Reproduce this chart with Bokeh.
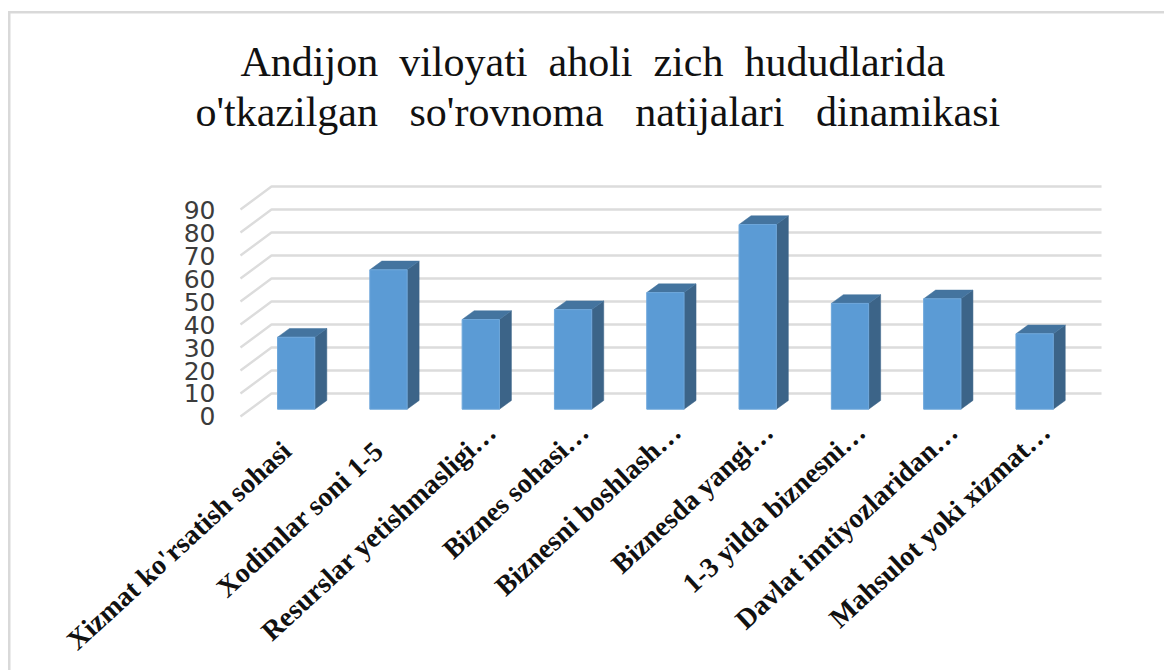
from bokeh.embed import file_html
from bokeh.resources import INLINE
from bokeh.plotting import figure
from bokeh.models import FixedTicker, Title, Range1d

NB2, NB3, PAD = "\u00a0\u00a0", "\u00a0\u00a0\u00a0", "\u00a0\u00a0\u00a0\u00a0"
title_lines = [NB2.join(["Andijon", "viloyati", "aholi", "zich", "hududlarida"]),
               NB3.join(["o'tkazilgan", "so'rovnoma", "natijalari", "dinamikasi"])]
categories = ["Xizmat ko'rsatish sohasi" + PAD, "Xodimlar soni 1-5" + PAD, "Resurslar yetishmasligi…",
              "Biznes sohasi…", "Biznesni boshlash…", "Biznesda yangi…",
              "1-3 yilda biznesni…", "Davlat imtiyozlaridan…", "Mahsulot yoki xizmat…"]
values = [31.3, 60.6, 39.0, 43.3, 50.7, 80.3, 46.0, 48.0, 32.8]
y_ticks = [0, 10, 20, 30, 40, 50, 60, 70, 80, 90]

PX_X, PX_Y = 92.3, 2.3
WALL_X0, WALL_X1 = -0.7226, 8.606
WALL_DX, WALL_DY = 31 / PX_X, 10.0
BAR_SHIFT = -0.1192
BAR_HALF = 18.65 / PX_X
BASE = 3.17
SIDE_DX, SIDE_DY = 12 / PX_X, 3.8
Y0 = -0.87

border = "linear-gradient(#d9d9d9,#d9d9d9)"
p = figure(width=1164, height=684, output_backend="svg", toolbar_location=None,
           x_range=Range1d(-0.809, 8.703), y_range=Range1d(Y0, 106.96),
           min_border_left=232, min_border_right=54, min_border_top=170, min_border_bottom=266,
           background_fill_color="white", border_fill_color=None, outline_line_color=None,
           title=None,
           styles={"margin-right": "-8px", "margin-bottom": "-30px",
                   "background": f"{border} 8px 11px / 100% 2.5px no-repeat, "
                                 f"{border} 8px 11px / 2.5px 100% no-repeat, white"})
p.grid.visible = False

grid = "#dcdcdc"
p.multi_line([[WALL_X0, WALL_X0 + WALL_DX, WALL_X1] for _ in y_ticks],
             [[v, v + WALL_DY, v + WALL_DY] for v in y_ticks],
             line_color=grid, line_width=2.4)

ticks = list(range(len(values)))
xs = [t + BAR_SHIFT for t in ticks]
tops = [BASE + v for v in values]
# right side faces
p.patches([[x + BAR_HALF, x + BAR_HALF + SIDE_DX, x + BAR_HALF + SIDE_DX, x + BAR_HALF] for x in xs],
          [[BASE, BASE + SIDE_DY, t + SIDE_DY, t] for t in tops],
          fill_color="#3c6488", line_color="#3c6488", line_width=0.5)
# top faces
p.patches([[x - BAR_HALF, x - BAR_HALF + SIDE_DX, x + BAR_HALF + SIDE_DX, x + BAR_HALF] for x in xs],
          [[t, t + SIDE_DY, t + SIDE_DY, t] for t in tops],
          fill_color="#44749f", line_color="#44749f", line_width=0.5)
# front faces
p.vbar(x=xs, width=2 * BAR_HALF, bottom=BASE, top=tops,
       fill_color="#5b9bd5", line_color="#6ea7db", line_width=1)

ya = p.yaxis[0]
ya.ticker = FixedTicker(ticks=y_ticks)
ya.axis_line_color = None
ya.major_tick_line_color = None
ya.minor_tick_line_color = None
ya.major_label_text_font = "DejaVu Sans"
ya.major_label_text_font_size = "25px"
ya.major_label_text_color = "#3c3c3c"
ya.major_label_standoff = 11

xa = p.xaxis[0]
xa.ticker = FixedTicker(ticks=ticks)
xa.major_label_overrides = {i: c for i, c in enumerate(categories)}
xa.axis_line_color = None
xa.major_tick_line_color = None
xa.minor_tick_line_color = None
xa.major_label_orientation = 0.743
xa.major_label_text_font = "Liberation Serif"
xa.major_label_text_font_style = "bold"
xa.major_label_text_font_size = "28px"
xa.major_label_text_line_height = 0.1
xa.major_label_text_color = "#111111"
xa.major_label_standoff = 3

for line, off, standoff in zip(reversed(title_lines), [-37, 8], [72, -68]):
    p.add_layout(Title(text=line, align="left", offset=off, standoff=standoff,
                       text_font="Liberation Serif", text_font_style="normal",
                       text_font_size="42px", text_color="#111111"), "above")

open("out.html", "w").write(file_html(p, INLINE))
